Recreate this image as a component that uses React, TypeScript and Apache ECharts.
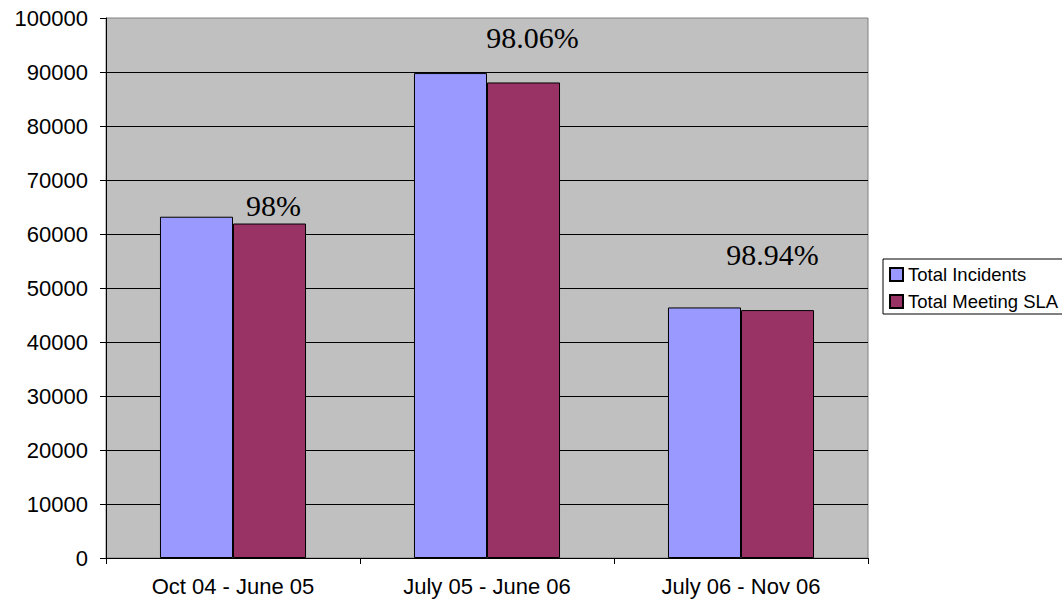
import React, { useEffect, useRef } from "react";
import * as echarts from "echarts";

// Reporting periods and incident counts
const periods = ["Oct 04 - June 05", "July 05 - June 06", "July 06 - Nov 06"];
const totalIncidents = [63200, 89800, 46400];
const totalMeetingSla = [61940, 88060, 45910];
const slaRateLabels = ["98%", "98.06%", "98.94%"];
// Where each SLA rate label sits relative to the top of its bar
const slaLabelOffsets: [number, number][] = [
  [4, -3],
  [9, -30],
  [-5, -41],
];

const SANS = "'Liberation Sans', Arial, sans-serif";
const SERIF = "'Liberation Serif', 'Times New Roman', serif";

export default function App() {
  const ref = useRef<HTMLDivElement>(null);

  useEffect(() => {
    if (!ref.current) return;
    const chart = echarts.init(ref.current, null, { renderer: "svg" });

    chart.setOption({
      animation: false,
      backgroundColor: "#ffffff",
      grid: {
        left: 106,
        top: 18,
        right: 194,
        bottom: 44,
        show: true,
        backgroundColor: "#C0C0C0",
        borderColor: "#808080",
        borderWidth: 1,
      },
      legend: {
        orient: "vertical",
        left: 883,
        top: 259,
        icon: "rect",
        itemWidth: 13,
        itemHeight: 13,
        itemGap: 8,
        padding: [6, 8, 3, 6],
        backgroundColor: "#ffffff",
        borderColor: "#000000",
        borderWidth: 1,
        borderRadius: 0,
        textStyle: { fontFamily: SANS, fontSize: 18.5, color: "#000" },
        data: ["Total Incidents", "Total Meeting SLA"],
      },
      xAxis: {
        type: "category",
        data: periods,
        axisLine: { show: true, lineStyle: { color: "#000", width: 1 } },
        axisTick: { show: true, length: 6, lineStyle: { color: "#000" } },
        axisLabel: { fontFamily: SANS, fontSize: 22, color: "#000", margin: 17 },
        splitLine: { show: false },
      },
      yAxis: {
        type: "value",
        min: 0,
        max: 100000,
        interval: 10000,
        axisLine: { show: true, lineStyle: { color: "#000", width: 1 } },
        axisTick: { show: true, length: 6, lineStyle: { color: "#000" } },
        axisLabel: {
          fontFamily: SANS,
          fontSize: 22,
          color: "#000",
          margin: 18,
          formatter: (v: number) => String(v),
        },
        splitLine: {
          show: true,
          showMinLine: false,
          showMaxLine: false,
          lineStyle: { color: "#000", width: 1 },
        },
      },
      series: [
        {
          name: "Total Incidents",
          type: "bar",
          data: totalIncidents,
          barGap: "0%",
          barCategoryGap: "42.5%",
          itemStyle: { color: "#9999FF", borderColor: "#000", borderWidth: 1 },
        },
        {
          name: "Total Meeting SLA",
          type: "bar",
          barGap: "0%",
          barCategoryGap: "42.5%",
          itemStyle: { color: "#993366", borderColor: "#000", borderWidth: 1 },
          data: totalMeetingSla.map((v, i) => ({
            value: v,
            label: {
              show: true,
              position: "top",
              distance: 0,
              offset: slaLabelOffsets[i],
              formatter: slaRateLabels[i],
              fontFamily: SERIF,
              fontSize: 30,
              color: "#000",
            },
          })),
        },
      ],
    });

    return () => chart.dispose();
  }, []);

  return (
    <div
      ref={ref}
      style={{ position: "fixed", left: 0, top: 0, width: 1062, height: 602 }}
    />
  );
}
